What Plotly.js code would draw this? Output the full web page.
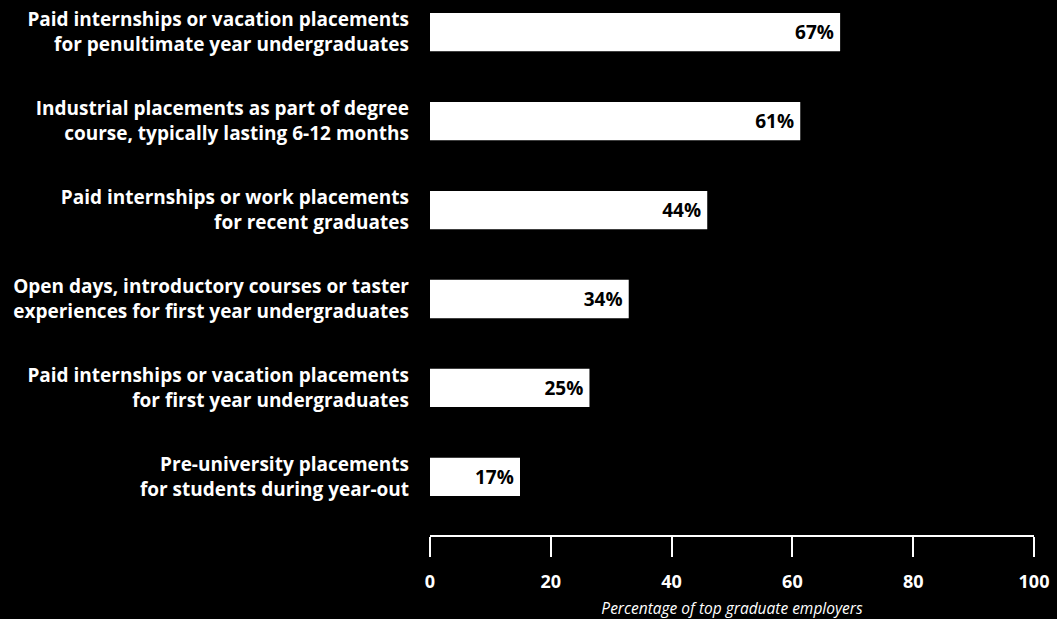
<!DOCTYPE html>
<html>
<head>
<meta charset="utf-8">
<script src="https://cdn.plot.ly/plotly-3.0.1.min.js"></script>
<style>
html,body{margin:0;padding:0;background:#000;}
#chart{width:1057px;height:619px;}
</style>
</head>
<body>
<div id="chart"></div>
<script>
const categories = [
  "Paid internships or vacation placements<br>for penultimate year undergraduates",
  "Industrial placements as part of degree<br>course, typically lasting 6-12 months",
  "Paid internships or work placements<br>for recent graduates",
  "Open days, introductory courses or taster<br>experiences for first year undergraduates",
  "Paid internships or vacation placements<br>for first year undergraduates",
  "Pre-university placements<br>for students during year-out"
];
const barLengths = [67.9, 61.3, 45.9, 32.9, 26.4, 14.9];
const barLabels = ["67%", "61%", "44%", "34%", "25%", "17%"];
const xTicks = [0, 20, 40, 60, 80, 100];

const FONT = "Open Sans, Noto Sans, sans-serif";

const trace = {
  type: "bar",
  orientation: "h",
  x: barLengths,
  y: categories,
  text: barLabels.map(s => s + "\u2009"),
  textposition: "inside",
  insidetextanchor: "end",
  constraintext: "none",
  textfont: {family: FONT, size: 19, color: "#000", weight: "bold"},
  marker: {color: "#ffffff", line: {width: 0}},
  width: 0.43,
  hoverinfo: "skip"
};

const layout = {
  width: 1057,
  height: 619,
  paper_bgcolor: "#000",
  plot_bgcolor: "#000",
  margin: {l: 430, r: 23, t: 0, b: 84},
  showlegend: false,
  font: {family: FONT, color: "#fff"},
  xaxis: {
    range: [0, 100],
    tickvals: xTicks,
    ticktext: xTicks.map(String),
    showgrid: false,
    zeroline: false,
    showline: true,
    linecolor: "#fff",
    linewidth: 2,
    ticks: "outside",
    ticklen: 20,
    tickwidth: 2,
    tickcolor: "#fff",
    ticklabelstandoff: 9,
    tickfont: {family: FONT, size: 18, color: "#fff", weight: "bold"},
    title: {
      text: "Percentage of top graduate employers",
      font: {family: FONT, size: 15.5, color: "#fff", style: "italic"},
      standoff: 13
    },
    fixedrange: true
  },
  yaxis: {
    type: "category",
    categoryorder: "array",
    categoryarray: categories,
    range: [5.652, -0.36],
    showgrid: false,
    zeroline: false,
    showline: false,
    ticks: "",
    ticklabelstandoff: 20,
    tickfont: {family: FONT, size: 19, color: "#fff", weight: "bold"},
    fixedrange: true
  }
};

Plotly.newPlot("chart", [trace], layout, {displayModeBar: false, staticPlot: true});
</script>
</body>
</html>
